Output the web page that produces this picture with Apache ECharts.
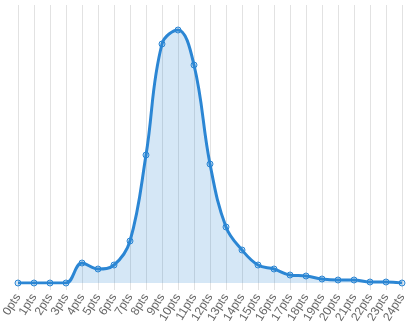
<!DOCTYPE html>
<html>
<head>
<meta charset="utf-8">
<style>
  html, body { margin: 0; padding: 0; background: #fff; }
  #chart { width: 415px; height: 330px; }
</style>
<script src="https://cdn.jsdelivr.net/npm/echarts@6/dist/echarts.min.js"></script>
</head>
<body>
<div id="chart"></div>
<script>
// categories and values
const categories = ['0pts', '1pts', '2pts', '3pts', '4pts', '5pts', '6pts', '7pts', '8pts', '9pts',
  '10pts', '11pts', '12pts', '13pts', '14pts', '15pts', '16pts', '17pts', '18pts', '19pts',
  '20pts', '21pts', '22pts', '23pts', '24pts'];
const counts = [0, 0, 0, 0, 20, 14, 18, 42, 128, 239, 253, 218, 119, 56, 33, 18, 14, 8, 7, 4, 3, 3, 1, 1, 0];
const yMax = 278;

const lineColor = '#2b86d4';

const chart = echarts.init(document.getElementById('chart'));
chart.setOption({
  animation: false,
  grid: { left: 18, right: 13, top: 5, bottom: 47, outerBoundsMode: 'none' },
  xAxis: {
    type: 'category',
    data: categories,
    boundaryGap: false,
    axisLine: { show: false },
    axisTick: { show: true, length: 7, lineStyle: { color: '#e2e2e2' } },
    splitLine: { show: true, lineStyle: { color: '#e2e2e2', width: 1 } },
    axisLabel: {
      rotate: 58,
      interval: 0,
      margin: 12,
      color: '#666',
      fontSize: 12,
      fontFamily: 'Arial, "Liberation Sans", sans-serif'
    }
  },
  yAxis: {
    type: 'value',
    min: 0,
    max: yMax,
    show: false,
    splitLine: { show: false }
  },
  series: [{
    type: 'line',
    data: counts,
    smooth: 0.4,
    symbol: 'circle',
    symbolSize: 6,
    showSymbol: true,
    lineStyle: { color: lineColor, width: 3 },
    itemStyle: { color: 'rgba(43,134,212,0.2)', borderColor: lineColor, borderWidth: 1 },
    areaStyle: { color: 'rgba(43,134,212,0.2)', opacity: 1 }
  }]
});
</script>
</body>
</html>
